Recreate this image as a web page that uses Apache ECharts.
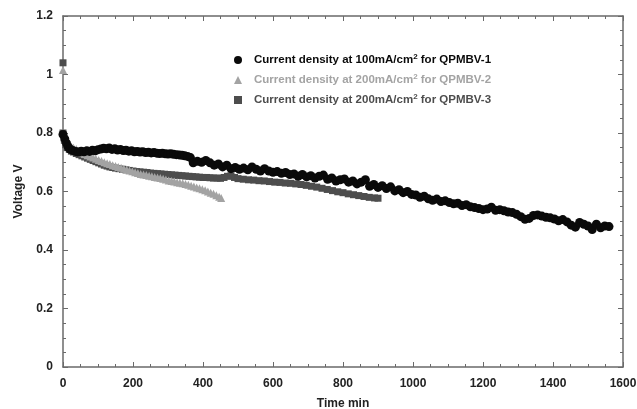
<!DOCTYPE html>
<html><head><meta charset="utf-8">
<script src="https://cdn.jsdelivr.net/npm/echarts@6/dist/echarts.min.js"></script>
<style>html,body{margin:0;padding:0;background:#fff}#c{width:637px;height:409px}</style>
</head><body><div id="c"></div>
<script>
const xTicks = [0,200,400,600,800,1000,1200,1400,1600];
const yTicks = [0,0.2,0.4,0.6,0.8,1,1.2];
const seriesNames = ['QPMBV-1','QPMBV-2','QPMBV-3'];
const currentDensity = ['100','200','200'];
// [time (min), voltage (V)]
const qpmbv1 = [[0,0.795],[5,0.78],[10,0.765],[15,0.752],[20,0.745],[28,0.74],[36,0.737],[44,0.735],[52,0.738],[60,0.736],[68,0.739],[76,0.737],[84,0.741],[92,0.739],[100,0.743],[108,0.745],[116,0.748],[124,0.746],[132,0.749],[140,0.744],[148,0.746],[156,0.742],[164,0.744],[172,0.74],[180,0.741],[188,0.738],[196,0.739],[204,0.736],[212,0.737],[220,0.735],[228,0.736],[236,0.733],[244,0.734],[252,0.732],[260,0.733],[268,0.731],[276,0.73],[284,0.731],[292,0.729],[300,0.728],[308,0.729],[316,0.727],[324,0.726],[332,0.725],[340,0.724],[348,0.722],[356,0.72],[364,0.716],
[372,0.698],[384,0.703],[396,0.7],[408,0.706],[420,0.698],[432,0.69],[444,0.694],[456,0.684],[468,0.69],[480,0.678],[492,0.682],[504,0.676],[516,0.68],[528,0.674],[540,0.684],[552,0.676],[564,0.67],[576,0.678],[588,0.67],[600,0.666],[612,0.668],[624,0.662],[636,0.665],[648,0.658],[660,0.66],[672,0.652],[684,0.658],[696,0.65],[708,0.654],[720,0.646],[732,0.652],[744,0.656],[756,0.642],[768,0.646],[780,0.636],[792,0.64],[804,0.643],[816,0.632],[828,0.636],[840,0.626],[852,0.632],[864,0.64],[876,0.618],[888,0.624],[900,0.614],[912,0.62],[924,0.61],[936,0.616],[948,0.602],[960,0.606],[972,0.596],[984,0.6],[996,0.59],[1008,0.588],[1020,0.58],[1032,0.584],[1044,0.575],[1056,0.57],[1068,0.574],[1080,0.566],[1092,0.568],[1104,0.562],[1116,0.558],[1128,0.56],[1140,0.552],[1152,0.555],[1164,0.548],[1176,0.545],[1188,0.542],[1200,0.538],[1212,0.54],[1224,0.546],[1236,0.536],[1248,0.538],[1260,0.534],[1272,0.53],[1284,0.528],[1296,0.522],[1308,0.514],[1320,0.505],[1332,0.508],[1344,0.518],[1356,0.52],[1368,0.516],[1380,0.512],[1392,0.51],[1404,0.506],[1416,0.5],[1428,0.504],[1440,0.496],[1452,0.485],[1464,0.478],[1476,0.494],[1488,0.488],[1500,0.482],[1512,0.47],[1524,0.488],[1536,0.476],[1548,0.482],[1560,0.48]];
const qpmbv2 = [[0,1.015],[0,0.80],[4,0.785],[8,0.775],[12,0.768],[18,0.76],[24,0.754],[30,0.75],[38,0.745],[46,0.738],[54,0.733],[62,0.728],[70,0.724],[78,0.72],[86,0.716],[94,0.712],[102,0.708],[110,0.704],[118,0.7],[126,0.697],[134,0.694],[142,0.69],[150,0.687],[158,0.684],[166,0.681],[174,0.678],[182,0.675],[190,0.672],[198,0.669],[206,0.666],[214,0.663],[222,0.66],[230,0.658],[238,0.656],[246,0.654],[254,0.652],[262,0.65],[270,0.648],[278,0.646],[286,0.644],[294,0.641],[302,0.638],[310,0.636],[318,0.634],[326,0.632],[334,0.63],[342,0.628],[350,0.626],[358,0.623],[366,0.62],[374,0.617],[382,0.614],[390,0.611],[398,0.608],[406,0.604],[414,0.6],[422,0.596],[430,0.592],[438,0.587],[446,0.582],[452,0.578]];
const qpmbv3 = [[0,1.04],[0,0.80],[4,0.775],[8,0.76],[12,0.75],[18,0.744],[24,0.738],[30,0.735],[38,0.73],[46,0.726],[54,0.722],[62,0.718],[70,0.714],[78,0.71],[86,0.706],[94,0.702],[102,0.698],[110,0.694],[118,0.69],[126,0.687],[134,0.684],[142,0.682],[150,0.68],[160,0.678],[170,0.676],[180,0.674],[190,0.672],[200,0.67],[210,0.668],[220,0.667],[230,0.666],[240,0.665],[250,0.663],[260,0.662],[270,0.661],[280,0.66],[290,0.659],[300,0.658],[310,0.657],[320,0.656],[330,0.655],[340,0.654],[350,0.653],[360,0.652],[370,0.651],[380,0.65],[390,0.649],[400,0.648],[410,0.648],[420,0.647],[430,0.646],[440,0.646],[450,0.645],[460,0.648],[470,0.652],[480,0.654],[490,0.648],[500,0.644],[515,0.642],[530,0.64],[545,0.639],[560,0.637],[575,0.636],[590,0.634],[605,0.632],[620,0.631],[635,0.629],[650,0.628],[665,0.626],[680,0.624],[695,0.621],[710,0.618],[725,0.615],[740,0.611],[755,0.607],[770,0.603],[785,0.599],[800,0.596],[815,0.592],[830,0.589],[845,0.586],[860,0.583],[875,0.58],[890,0.578],[900,0.577]];

const colors = ['#0a0a0a','#a3a3a3','#4d4d4d'];
const FONT = 'Liberation Sans, Arial, sans-serif';
const chart = echarts.init(document.getElementById('c'), null, {renderer:'canvas'});
const axisLineStyle = {color:'#6a6a6a', width:1.5};
const tickCommon = {show:true, inside:true, length:5, lineStyle:{color:'#6a6a6a', width:1}};
const minorCommon = {show:true, splitNumber:4, length:3, lineStyle:{color:'#6a6a6a', width:1}};
const labelStyle = {color:'#222', fontFamily:FONT, fontWeight:'bold', fontSize:12};
const richFor = {gap:{width:7, fontSize:11.5, lineHeight:14}};
seriesNames.forEach((n,i)=>{
  richFor['t'+i] = {color:colors[i], fontFamily:FONT, fontWeight:'bold', fontSize:11.5, lineHeight:14};
  richFor['s'+i] = {color:colors[i], fontFamily:FONT, fontWeight:'bold', fontSize:8, lineHeight:14, verticalAlign:'top', padding:[0,0,8,0]};
});
chart.setOption({
  animation:false,
  backgroundColor:'#fff',
  grid:{left:63, right:14, top:16, bottom:42, containLabel:false, outerBoundsMode:'none'},
  legend:{
    orient:'vertical', left:229, top:48, itemWidth:8, itemHeight:8, itemGap:4,
    selectedMode:false,
    data: seriesNames.map((n,i)=>({name:n, icon:['circle','triangle','rect'][i]})),
    formatter: function(name){
      const i = seriesNames.indexOf(name);
      return '{gap| }{t'+i+'|Current density at '+currentDensity[i]+'mA/cm}{s'+i+'|2}{t'+i+'| for '+name+'}';
    },
    textStyle:{fontFamily:FONT, fontWeight:'bold', fontSize:11.5, rich:richFor}
  },
  xAxis:[{
    type:'value', min:xTicks[0], max:xTicks[xTicks.length-1], interval:200,
    name:'Time min', nameLocation:'middle', nameGap:31,
    nameTextStyle:{color:'#222', fontFamily:FONT, fontWeight:'bold', fontSize:12},
    axisLine:{show:true, onZero:false, lineStyle:axisLineStyle}, axisTick:tickCommon, minorTick:minorCommon,
    axisLabel:Object.assign({margin:11, formatter:(v)=>String(v)}, labelStyle), splitLine:{show:false}
  },{
    type:'value', position:'top', min:xTicks[0], max:xTicks[xTicks.length-1], interval:200,
    axisLine:{show:true, onZero:false, lineStyle:axisLineStyle}, axisTick:tickCommon, minorTick:minorCommon,
    axisLabel:{show:false}, splitLine:{show:false}
  }],
  yAxis:[{
    type:'value', min:yTicks[0], max:yTicks[yTicks.length-1], interval:0.2,
    name:'Voltage V', nameLocation:'middle', nameGap:38,
    nameTextStyle:{color:'#222', fontFamily:FONT, fontWeight:'bold', fontSize:12},
    axisLine:{show:true, onZero:false, lineStyle:axisLineStyle}, axisTick:tickCommon, minorTick:minorCommon,
    axisLabel:Object.assign({margin:10, formatter:(v)=>String(+v.toFixed(1))}, labelStyle), splitLine:{show:false}
  },{
    type:'value', position:'right', min:yTicks[0], max:yTicks[yTicks.length-1], interval:0.2,
    axisLine:{show:true, onZero:false, lineStyle:axisLineStyle}, axisTick:tickCommon, minorTick:minorCommon,
    axisLabel:{show:false}, splitLine:{show:false}
  }],
  series:[
    {name:seriesNames[0], type:'scatter', data:qpmbv1, symbol:'circle', symbolSize:9, z:4, itemStyle:{color:colors[0], opacity:1}},
    {name:seriesNames[1], type:'scatter', data:qpmbv2, symbol:'triangle', symbolSize:8, z:3, itemStyle:{color:colors[1], opacity:1}},
    {name:seriesNames[2], type:'scatter', data:qpmbv3, symbol:'rect', symbolSize:7, z:2, itemStyle:{color:colors[2], opacity:1}}
  ]
});
</script></body></html>
